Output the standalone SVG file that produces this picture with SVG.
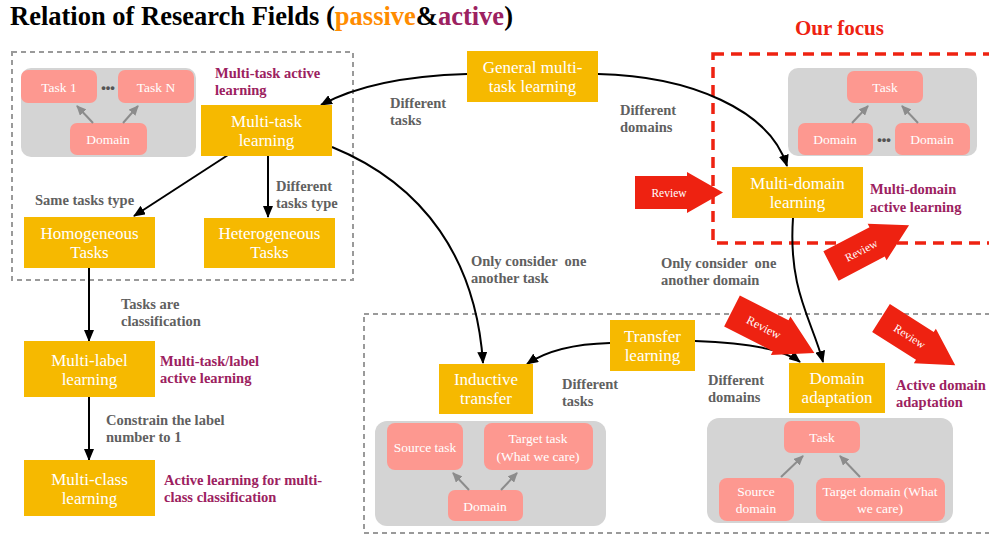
<svg xmlns="http://www.w3.org/2000/svg" width="989" height="536" viewBox="0 0 989 536">
  <defs>
    <marker id="arrow" markerUnits="userSpaceOnUse" markerWidth="12" markerHeight="10" refX="11" refY="5" orient="auto">
      <path d="M0,0 L12,5 L0,10 Z" fill="#000"/>
    </marker>
    <marker id="arrow-gray" markerUnits="userSpaceOnUse" markerWidth="10" markerHeight="9" refX="9" refY="4.5" orient="auto">
      <path d="M0,0 L10,4.5 L0,9 Z" fill="#8c8c8c"/>
    </marker>
    <!-- review arrow, tail at origin, pointing along +x -->
    <path id="review-shape" d="M0,-16.5 L52,-16.5 L52,-20.5 L88,0 L52,20.5 L52,16.5 L0,16.5 Z"/>
  </defs>
  <style>
    .title { font-family: "Liberation Serif", "Times New Roman", serif; font-weight: bold; font-size: 26.5px; fill: #000; }
    .focus { font-family: "Liberation Serif", serif; font-weight: bold; font-size: 21px; fill: #ee2211; }
    .box { fill: #f6b900; }
    .box-text { font-family: "Liberation Serif", serif; font-size: 17px; fill: #fff; text-anchor: middle; }
    .panel { fill: #d4d4d4; }
    .pink { fill: #fd9890; }
    .pink-text { font-family: "Liberation Serif", serif; font-size: 13.5px; fill: #fff; text-anchor: middle; }
    .dots { font-family: "Liberation Sans", sans-serif; font-weight: bold; font-size: 13px; fill: #555; text-anchor: middle; }
    .edge-label { font-family: "Liberation Serif", serif; font-weight: bold; font-size: 14.5px; fill: #606060; white-space: pre; }
    .active-label { font-family: "Liberation Serif", serif; font-weight: bold; font-size: 14.5px; fill: #9c2160; }
    .group-gray { fill: none; stroke: #9a9a9a; stroke-width: 2; stroke-dasharray: 5 4; }
    .group-red { fill: none; stroke: #ee2211; stroke-width: 3.5; stroke-dasharray: 11 7; }
    .conn { fill: none; stroke: #000; stroke-width: 2; marker-end: url(#arrow); }
    .inner { fill: none; stroke: #8c8c8c; stroke-width: 2; marker-end: url(#arrow-gray); }
    .review { fill: #ee2211; }
    .review-text { font-family: "Liberation Serif", serif; font-size: 11.5px; fill: #fff; text-anchor: middle; }
  </style>

  <rect width="989" height="536" fill="#fff"/>

  <text class="title" x="10" y="25">Relation of Research Fields (<tspan fill="#ff8c00">passive</tspan>&amp;<tspan fill="#9c2160">active</tspan>)</text>

  <!-- grouping frames -->
  <g id="frames">
    <rect class="group-gray" x="12" y="52" width="341" height="228"/>
    <rect class="group-gray" x="364" y="314" width="640" height="219"/>
    <rect class="group-red" x="713" y="54" width="300" height="189"/>
    <text class="focus" x="795" y="35">Our focus</text>
  </g>

  <!-- connectors -->
  <g id="connectors">
    <path class="conn" d="M467,74 C400,76 352,88 321,105"/>
    <path class="conn" d="M598,74 C690,76 770,110 787,166"/>
    <path class="conn" d="M228,155 L134,216"/>
    <path class="conn" d="M268,156 L268,217"/>
    <path class="conn" d="M332,147 C425,185 476,260 483,363"/>
    <path class="conn" d="M89,268 L89,341"/>
    <path class="conn" d="M89,397 L89,460"/>
    <path class="conn" d="M793,218 C788,290 812,320 823,362"/>
    <path class="conn" d="M610,343 C572,344 546,351 527,364"/>
    <path class="conn" d="M695,341 C750,343 785,350 800,362"/>
  </g>

  <!-- edge labels -->
  <g id="edge-labels">
    <text class="edge-label" x="390" y="108">Different</text>
    <text class="edge-label" x="390" y="125">tasks</text>
    <text class="edge-label" x="620" y="115">Different</text>
    <text class="edge-label" x="620" y="132">domains</text>
    <text class="edge-label" x="35" y="205">Same tasks type</text>
    <text class="edge-label" x="276" y="191">Different</text>
    <text class="edge-label" x="276" y="208">tasks type</text>
    <text class="edge-label" x="471" y="266" xml:space="preserve">Only consider  one</text>
    <text class="edge-label" x="471" y="283">another task</text>
    <text class="edge-label" x="661" y="268" xml:space="preserve">Only consider  one</text>
    <text class="edge-label" x="661" y="285">another domain</text>
    <text class="edge-label" x="121" y="309">Tasks are</text>
    <text class="edge-label" x="121" y="326">classification</text>
    <text class="edge-label" x="106" y="425">Constrain the label</text>
    <text class="edge-label" x="106" y="442">number to 1</text>
    <text class="edge-label" x="562" y="389">Different</text>
    <text class="edge-label" x="562" y="406">tasks</text>
    <text class="edge-label" x="708" y="385">Different</text>
    <text class="edge-label" x="708" y="402">domains</text>
  </g>

  <!-- active learning labels -->
  <g id="active-labels">
    <text class="active-label" x="215" y="78">Multi-task active</text>
    <text class="active-label" x="215" y="95">learning</text>
    <text class="active-label" x="870" y="194">Multi-domain</text>
    <text class="active-label" x="870" y="212">active learning</text>
    <text class="active-label" x="160" y="366">Multi-task/label</text>
    <text class="active-label" x="160" y="383">active learning</text>
    <text class="active-label" x="164" y="485">Active learning for multi-</text>
    <text class="active-label" x="164" y="502">class classification</text>
    <text class="active-label" x="896" y="390">Active domain</text>
    <text class="active-label" x="896" y="407">adaptation</text>
  </g>

  <!-- multi-task sketch -->
  <g id="multitask-sketch">
    <rect class="panel" x="21" y="68" width="175" height="89" rx="10"/>
    <rect class="pink" x="21" y="70" width="76" height="33" rx="7"/>
    <text class="pink-text" x="59" y="92">Task 1</text>
    <rect class="pink" x="118" y="70" width="76" height="33" rx="7"/>
    <text class="pink-text" x="156" y="92">Task N</text>
    <text class="dots" x="108" y="92">•••</text>
    <rect class="pink" x="70" y="123" width="77" height="32" rx="7"/>
    <text class="pink-text" x="108" y="144">Domain</text>
    <path class="inner" d="M93,123 L77,106"/>
    <path class="inner" d="M123,123 L138,106"/>
  </g>

  <!-- multi-domain sketch -->
  <g id="multidomain-sketch">
    <rect class="panel" x="788" y="68" width="189" height="88" rx="10"/>
    <rect class="pink" x="847" y="71" width="76" height="32" rx="7"/>
    <text class="pink-text" x="885" y="92">Task</text>
    <rect class="pink" x="798" y="123" width="75" height="32" rx="7"/>
    <text class="pink-text" x="835" y="144">Domain</text>
    <rect class="pink" x="895" y="123" width="75" height="32" rx="7"/>
    <text class="pink-text" x="932" y="144">Domain</text>
    <text class="dots" x="884" y="144">•••</text>
    <path class="inner" d="M852,123 L868,106"/>
    <path class="inner" d="M918,123 L902,106"/>
  </g>

  <!-- inductive transfer sketch -->
  <g id="inductive-sketch">
    <rect class="panel" x="375" y="421" width="231" height="105" rx="12"/>
    <rect class="pink" x="387" y="423" width="76" height="47" rx="8"/>
    <text class="pink-text" x="425" y="452">Source task</text>
    <rect class="pink" x="484" y="423" width="109" height="47" rx="8"/>
    <text class="pink-text" x="538" y="443">Target task</text>
    <text class="pink-text" x="538" y="461">(What we care)</text>
    <rect class="pink" x="448" y="490" width="75" height="31" rx="7"/>
    <text class="pink-text" x="485" y="511">Domain</text>
    <path class="inner" d="M469,490 L453,473"/>
    <path class="inner" d="M501,490 L517,473"/>
  </g>

  <!-- domain adaptation sketch -->
  <g id="adaptation-sketch">
    <rect class="panel" x="707" y="418" width="246" height="105" rx="12"/>
    <rect class="pink" x="784" y="421" width="76" height="32" rx="7"/>
    <text class="pink-text" x="822" y="442">Task</text>
    <rect class="pink" x="719" y="478" width="75" height="43" rx="8"/>
    <text class="pink-text" x="756" y="496">Source</text>
    <text class="pink-text" x="756" y="513">domain</text>
    <rect class="pink" x="816" y="478" width="129" height="43" rx="8"/>
    <text class="pink-text" x="880" y="496">Target domain (What</text>
    <text class="pink-text" x="880" y="513">we care)</text>
    <path class="inner" d="M781,477 L803,456"/>
    <path class="inner" d="M860,477 L840,456"/>
  </g>

  <!-- field nodes -->
  <g id="general-mtl">
    <rect class="box" x="467" y="51" width="131" height="51"/>
    <text class="box-text" x="532.5" y="73">General multi-</text>
    <text class="box-text" x="532.5" y="92">task learning</text>
  </g>
  <g id="multi-task">
    <rect class="box" x="201" y="105" width="131" height="51"/>
    <text class="box-text" x="266.5" y="127">Multi-task</text>
    <text class="box-text" x="266.5" y="146">learning</text>
  </g>
  <g id="homogeneous">
    <rect class="box" x="24" y="217" width="131" height="51"/>
    <text class="box-text" x="89.5" y="239">Homogeneous</text>
    <text class="box-text" x="89.5" y="258">Tasks</text>
  </g>
  <g id="heterogeneous">
    <rect class="box" x="204" y="218" width="131" height="50"/>
    <text class="box-text" x="269.5" y="239">Heterogeneous</text>
    <text class="box-text" x="269.5" y="258">Tasks</text>
  </g>
  <g id="multi-label">
    <rect class="box" x="24" y="341" width="131" height="56"/>
    <text class="box-text" x="89.5" y="366">Multi-label</text>
    <text class="box-text" x="89.5" y="385">learning</text>
  </g>
  <g id="multi-class">
    <rect class="box" x="24" y="460" width="131" height="56"/>
    <text class="box-text" x="89.5" y="485">Multi-class</text>
    <text class="box-text" x="89.5" y="504">learning</text>
  </g>
  <g id="multi-domain">
    <rect class="box" x="732" y="167" width="131" height="51"/>
    <text class="box-text" x="797.5" y="189">Multi-domain</text>
    <text class="box-text" x="797.5" y="208">learning</text>
  </g>
  <g id="transfer">
    <rect class="box" x="610" y="320" width="85" height="51"/>
    <text class="box-text" x="652.5" y="342">Transfer</text>
    <text class="box-text" x="652.5" y="361">learning</text>
  </g>
  <g id="inductive">
    <rect class="box" x="439" y="364" width="94" height="50"/>
    <text class="box-text" x="486" y="385">Inductive</text>
    <text class="box-text" x="486" y="404">transfer</text>
  </g>
  <g id="adaptation">
    <rect class="box" x="789" y="363" width="96" height="50"/>
    <text class="box-text" x="837" y="384">Domain</text>
    <text class="box-text" x="837" y="403">adaptation</text>
  </g>

  <!-- review arrows -->
  <g id="review-1" transform="translate(635,192.5)">
    <use href="#review-shape" class="review"/>
    <text class="review-text" x="34" y="4">Review</text>
  </g>
  <g id="review-2" transform="translate(831,266) rotate(-27.5)">
    <use href="#review-shape" class="review"/>
    <text class="review-text" x="34" y="4">Review</text>
  </g>
  <g id="review-3" transform="translate(732,311) rotate(27) scale(1.05)">
    <use href="#review-shape" class="review"/>
    <text class="review-text" x="34" y="4">Review</text>
  </g>
  <g id="review-4" transform="translate(881,318) rotate(32.5)">
    <use href="#review-shape" class="review"/>
    <text class="review-text" x="34" y="4">Review</text>
  </g>
</svg>
